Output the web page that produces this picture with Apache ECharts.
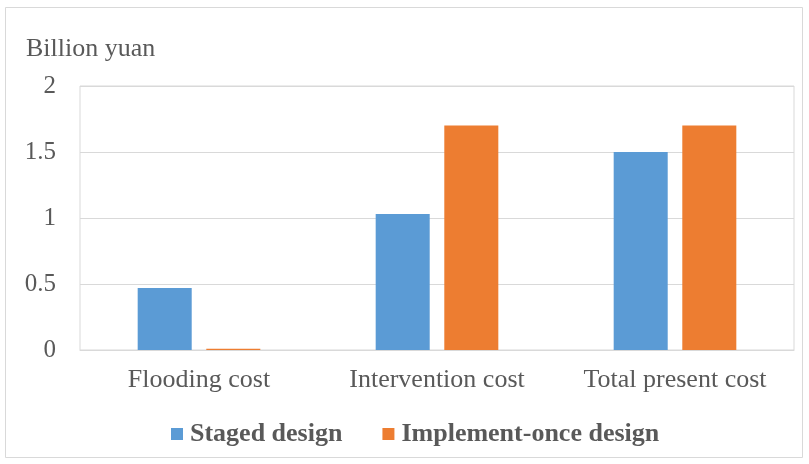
<!DOCTYPE html>
<html><head><meta charset="utf-8">
<script src="https://cdn.jsdelivr.net/npm/echarts@6/dist/echarts.min.js"></script>
<style>html,body{margin:0;padding:0;background:#fff}#c{width:809px;height:464px}</style>
</head><body><div id="c"></div>
<script>
const categories = ['Flooding cost', 'Intervention cost', 'Total present cost'];
const stagedDesign = [0.47, 1.03, 1.50];
const implementOnce = [0.01, 1.70, 1.70];
const yTicks = [0, 0.5, 1, 1.5, 2];
const seriesNames = ['Staged design', 'Implement-once design'];

const font = '"Liberation Serif", "Times New Roman", serif';
const chart = echarts.init(document.getElementById('c'), null, {renderer: 'canvas'});
chart.setOption({
  animation: false,
  backgroundColor: '#fff',
  graphic: [{
    type: 'rect', shape: {x: 5.5, y: 7.5, width: 797, height: 450},
    style: {fill: 'none', stroke: '#d9d9d9', lineWidth: 1}, silent: true, z: -1
  }],
  grid: {left: 80, right: 15, top: 86, bottom: 114, show: true, borderColor: '#d9d9d9', borderWidth: 1},
  title: {text: 'Billion yuan', left: 26, top: 36, padding: 0,
    textStyle: {fontFamily: font, fontSize: 26, fontWeight: 'normal', color: '#595959'}},
  legend: {
    data: seriesNames, top: 421, left: 171, padding: 0, itemWidth: 12, itemHeight: 12, itemGap: 40,
    icon: 'rect',
    textStyle: {fontFamily: font, fontSize: 26, fontWeight: 'bold', color: '#595959', padding: [0,0,0,2]}
  },
  xAxis: {
    type: 'category', data: categories,
    axisLine: {show: true, lineStyle: {color: '#d9d9d9'}},
    axisTick: {show: false},
    axisLabel: {fontFamily: font, fontSize: 26, color: '#595959', margin: 17}
  },
  yAxis: {
    type: 'value', min: yTicks[0], max: yTicks[yTicks.length-1], interval: 0.5,
    axisLine: {show: false}, axisTick: {show: false},
    splitLine: {lineStyle: {color: '#d9d9d9'}},
    axisLabel: {fontFamily: font, fontSize: 25, color: '#595959', margin: 24,
      formatter: v => String(v)}
  },
  series: [
    {name: seriesNames[0], type: 'bar', data: stagedDesign, barWidth: '22.7%', barGap: '27%',
      itemStyle: {color: '#5b9bd5'}},
    {name: seriesNames[1], type: 'bar', data: implementOnce, barWidth: '22.7%',
      itemStyle: {color: '#ed7d31'}}
  ]
});
</script></body></html>
